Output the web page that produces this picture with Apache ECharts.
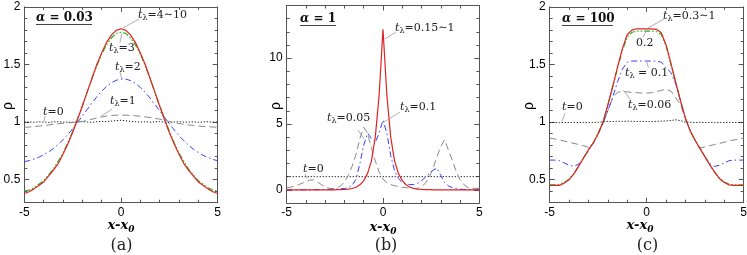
<!DOCTYPE html>
<html><head><meta charset="utf-8">
<script src="https://cdn.jsdelivr.net/npm/echarts@6/dist/echarts.min.js"></script>
<style>html,body{margin:0;padding:0;background:#fff}#c{width:747px;height:255px}</style>
</head><body><div id="c"></div>
<script>
// ---------- data ----------
const xGridAC = [-5,-4.75,-4.5,-4.25,-4,-3.75,-3.5,-3.25,-3,-2.75,-2.5,-2.25,-2,-1.75,-1.5,-1.25,-1,-0.75,-0.5,-0.25,0,0.25,0.5,0.75,1,1.25,1.5,1.75,2,2.25,2.5,2.75,3,3.25,3.5,3.75,4,4.25,4.5,4.75,5];
const xGridB = [-5,-4.8,-4.6,-4.4,-4.2,-4,-3.8,-3.6,-3.4,-3.2,-3,-2.8,-2.6,-2.4,-2.2,-2,-1.8,-1.6,-1.4,-1.2,-1,-0.8,-0.6,-0.4,-0.2,0,0.2,0.4,0.6,0.8,1,1.2,1.4,1.6,1.8,2,2.2,2.4,2.6,2.8,3,3.2,3.4,3.6,3.8,4,4.2,4.4,4.6,4.8,5];

// panel (a) alpha = 0.03
const aT0    = [1.0,1.003,0.998,1.002,1.0,0.997,1.001,1.004,0.999,1.0,0.998,1.002,1.004,1.0,0.998,1.003,1.006,1.004,1.009,1.012,1.016,1.011,1.006,1.003,1.0,1.003,0.999,1.002,1.005,1.0,0.998,1.001,1.003,0.999,1.0,1.002,0.998,1.001,1.003,1.0,1.0];
const aT1    = [0.955,0.957,0.96,0.965,0.97,0.975,0.98,0.985,0.99,0.993,0.997,1.0,1.005,1.015,1.025,1.035,1.045,1.052,1.057,1.06,1.06,1.06,1.058,1.055,1.05,1.045,1.04,1.033,1.025,1.015,1.005,0.995,0.987,0.98,0.975,0.97,0.966,0.962,0.96,0.957,0.955];
const aT2    = [0.656,0.666,0.679,0.695,0.716,0.74,0.77,0.806,0.846,0.892,0.942,0.996,1.052,1.110,1.166,1.219,1.268,1.309,1.341,1.363,1.374,1.373,1.36,1.336,1.301,1.258,1.209,1.155,1.098,1.041,0.985,0.932,0.882,0.838,0.798,0.764,0.735,0.711,0.692,0.676,0.664];
const aT3    = [0.40,0.41,0.43,0.46,0.49,0.54,0.59,0.66,0.73,0.82,0.92,1.03,1.14,1.26,1.38,1.49,1.59,1.67,1.73,1.77,1.78,1.77,1.73,1.67,1.59,1.49,1.38,1.26,1.14,1.03,0.92,0.82,0.73,0.66,0.59,0.54,0.49,0.46,0.43,0.41,0.40];
const aT4to10= [0.38,0.395,0.42,0.45,0.48,0.53,0.58,0.64,0.72,0.81,0.91,1.02,1.14,1.26,1.38,1.50,1.60,1.69,1.755,1.796,1.81,1.796,1.755,1.69,1.60,1.50,1.38,1.26,1.14,1.02,0.91,0.81,0.72,0.64,0.58,0.53,0.48,0.45,0.42,0.395,0.38];

// panel (b) alpha = 1
const bT0    = [1,1,1,1,1,1,1,1,1,1,1,1,1,1,1,1,1,1,1,1,1,1,1,1,1,1,1,1,1,1,1,1,1,1,1,1,1,1,1,1,1,1,1,1,1,1,1,1,1,1,1];
const bT005  = [0.15,0.2,0.28,0.38,0.5,0.62,0.74,0.76,0.6,0.4,0.22,0.12,0.1,0.15,0.3,0.6,1.1,1.8,2.7,3.9,4.75,4.3,3.15,2.2,1.35,0.82,0.55,0.4,0.31,0.25,0.2,0.16,0.13,0.11,0.12,0.25,0.5,0.95,1.65,2.5,3.3,3.8,3.0,2.25,1.4,0.78,0.4,0.18,0.12,0.11,0.1];
const bT01   = [0,0,0,0,0,0,0,0.01,0.01,0.02,0.02,0.03,0.04,0.06,0.08,0.1,0.15,0.35,0.8,2.0,3.4,4.3,3.9,3.6,4.3,5.3,4.3,2.6,1.45,0.85,0.56,0.45,0.4,0.4,0.5,0.7,0.95,1.2,1.5,1.65,1.1,0.55,0.3,0.17,0.1,0.05,0.03,0.02,0.01,0,0];
const bT015to1=[0,0,0,0,0,0,0,0,0,0,0,0,0,0.01,0.02,0.03,0.05,0.1,0.2,0.38,0.7,1.25,2.2,4.0,7.2,12.2,7.2,4.0,2.2,1.25,0.7,0.38,0.2,0.1,0.05,0.03,0.02,0.01,0,0,0,0,0,0,0,0,0,0,0,0,0];

// panel (c) alpha = 100
const cT0    = [0.996,0.997,0.995,0.997,0.996,0.998,0.996,0.997,0.995,0.997,0.998,1.003,1.006,1.005,1.007,1.006,1.008,1.006,1.005,1.006,1.005,1.004,1.006,1.008,1.01,1.014,1.02,1.012,1.0,0.997,0.996,0.998,0.996,0.997,0.995,0.997,0.996,0.998,0.996,0.997,0.996];
const cT006  = [0.862,0.853,0.845,0.835,0.825,0.815,0.805,0.795,0.78,0.82,0.90,0.99,1.10,1.21,1.26,1.265,1.262,1.258,1.255,1.252,1.252,1.255,1.265,1.275,1.285,1.27,1.21,1.15,1.03,0.92,0.84,0.775,0.785,0.795,0.805,0.815,0.825,0.835,0.845,0.853,0.862];
const cT01   = [0.67,0.67,0.665,0.645,0.625,0.615,0.635,0.69,0.75,0.82,0.90,0.99,1.10,1.22,1.35,1.46,1.52,1.53,1.53,1.53,1.53,1.53,1.53,1.52,1.47,1.43,1.33,1.18,1.03,0.92,0.84,0.77,0.70,0.64,0.615,0.625,0.645,0.665,0.67,0.67,0.67];
const cT02   = [0.455,0.455,0.46,0.475,0.505,0.555,0.62,0.69,0.76,0.82,0.90,1.0,1.15,1.31,1.47,1.62,1.74,1.78,1.79,1.79,1.79,1.79,1.785,1.76,1.66,1.50,1.34,1.18,1.03,0.92,0.84,0.77,0.70,0.63,0.565,0.515,0.48,0.46,0.455,0.455,0.455];
const cT03to1= [0.45,0.45,0.45,0.47,0.50,0.55,0.62,0.69,0.76,0.82,0.90,1.0,1.15,1.31,1.48,1.64,1.76,1.80,1.81,1.81,1.81,1.81,1.805,1.775,1.67,1.51,1.34,1.18,1.03,0.92,0.84,0.77,0.70,0.63,0.565,0.51,0.475,0.455,0.45,0.45,0.45];

const xRange = [-5, 5];
const yRanges = [[0.3, 2, 0.1], [-1, 14, 1], [0.3, 2, 0.1]];

// ---------- styles ----------
const FRAME = '#555';
const RED = '#e02222', GREEN = '#22bb22', BLUE = '#3a3aff', GRAY = '#888888', BLACK = '#111';
const DOT = [1.2, 1.8], DASH = [7, 4], DASHDOT = [6, 3, 1.5, 3], DASHDOTDOT = [6, 2, 1.5, 2, 1.5, 2];

const grids = [
  {left: 24.3, top: 6.9, width: 193.4, height: 195.8},
  {left: 286.7, top: 5.5, width: 192.6, height: 197.5},
  {left: 549.7, top: 6.9, width: 194, height: 195.8}
];

const xAxis = [], yAxis = [];
grids.forEach((g, i) => {
  const lbl = {margin: 4, fontSize: 12, color: '#000', fontFamily: 'Liberation Sans'};
  const common = {gridIndex: i, type: 'value', splitLine: {show: false}, minorSplitLine: {show: false}};
  ['bottom', 'top'].forEach(pos => {
    xAxis.push(Object.assign({}, common, {
      position: pos, min: xRange[0], max: xRange[1], interval: 5,
      axisLine: {show: true, onZero: false, lineStyle: {color: FRAME, width: 1}},
      axisTick: {show: true, inside: true, length: 5, lineStyle: {color: FRAME}},
      minorTick: {show: true, splitNumber: 5, length: 3, lineStyle: {color: FRAME}},
      axisLabel: pos === 'bottom' ? lbl : {show: false}
    }));
  });
  const [ymin, ymax, ystep] = yRanges[i];
  ['left', 'right'].forEach(pos => {
    yAxis.push(Object.assign({}, common, {
      position: pos, min: ymin, max: ymax, splitNumber: 3,
      axisLine: {show: true, onZero: false, lineStyle: {color: FRAME, width: 1}},
      axisTick: {show: true, inside: true, length: 5, lineStyle: {color: FRAME}},
      axisLabel: pos === 'left' ? Object.assign({showMinLabel: false, showMaxLabel: i !== 1}, lbl) : {show: false}
    }));
    yAxis.push(Object.assign({}, common, {
      position: pos, min: ymin, max: ymax, interval: ystep,
      axisLine: {show: false, onZero: false},
      axisTick: {show: true, inside: true, length: 3, lineStyle: {color: FRAME}},
      axisLabel: {show: false}
    }));
  });
});

function zip(xs, ys) { return xs.map((x, k) => [x, ys[k]]); }
function ln(p, xs, ys, color, type, width, z) {
  return {type: 'line', xAxisIndex: 2 * p, yAxisIndex: 4 * p, data: zip(xs, ys),
    symbol: 'none', showSymbol: false, smooth: false, silent: true, animation: false, z: z,
    lineStyle: {color: color, type: type, width: width}};
}
const series = [
  ln(0, xGridAC, aT0, BLACK, DOT, 1, 2),
  ln(0, xGridAC, aT1, GRAY, DASH, 1, 3),
  ln(0, xGridAC, aT2, BLUE, DASHDOT, 1, 4),
  ln(0, xGridAC, aT3, GREEN, DASHDOTDOT, 1.2, 5),
  ln(0, xGridAC, aT4to10, RED, 'solid', 1.2, 6),
  ln(1, xGridB, bT0, BLACK, DOT, 1, 2),
  ln(1, xGridB, bT005, GRAY, DASH, 1, 3),
  ln(1, xGridB, bT01, BLUE, DASHDOT, 1, 4),
  ln(1, xGridB, bT015to1, RED, 'solid', 1.2, 6),
  ln(2, xGridAC, cT0, BLACK, DOT, 1, 2),
  ln(2, xGridAC, cT006, GRAY, DASH, 1, 3),
  ln(2, xGridAC, cT01, BLUE, DASHDOT, 1, 4),
  ln(2, xGridAC, cT02, GREEN, DASHDOTDOT, 1.2, 5),
  ln(2, xGridAC, cT03to1, RED, 'solid', 1.2, 6)
];

// ---------- text annotations ----------
const SERIF = 'DejaVu Serif';
const TXT = '#222';
function tLam(x, y, rest) {
  return {type: 'text', x: x, y: y, silent: true, z: 100, style: {
    text: '{t|t}{s|λ}{n|' + rest + '}', align: 'left', verticalAlign: 'middle',
    rich: {
      t: {fontFamily: SERIF, fontStyle: 'italic', fontSize: 11, fill: TXT},
      s: {fontFamily: SERIF, fontSize: 8, fill: TXT, padding: [6, 0, 0, 0]},
      n: {fontFamily: SERIF, fontSize: 11, fill: TXT}
    }}};
}
function tZero(x, y) {
  return {type: 'text', x: x, y: y, silent: true, z: 100, style: {
    text: '{t|t}{n|=0}', align: 'left', verticalAlign: 'middle',
    rich: {
      t: {fontFamily: SERIF, fontStyle: 'italic', fontSize: 11, fill: TXT},
      n: {fontFamily: SERIF, fontSize: 11, fill: TXT}
    }}};
}
function plain(x, y, text, size, align, extra) {
  return {type: 'text', x: x, y: y, silent: true, z: 100, style: Object.assign({
    text: text, align: align || 'left', verticalAlign: 'middle',
    fontFamily: SERIF, fontSize: size, fill: TXT}, extra || {})};
}
function leader(x1, y1, x2, y2) {
  return {type: 'line', silent: true, z: 99, shape: {x1: x1, y1: y1, x2: x2, y2: y2},
    style: {stroke: '#9a9a9a', lineWidth: 0.8}};
}
function alpha(x, y, val, ux2) {
  return [
    {type: 'text', x: x, y: y, silent: true, z: 100, style: {
      text: '{a|α}{n| = ' + val + '}', align: 'left', verticalAlign: 'middle',
      rich: {
        a: {fontFamily: SERIF, fontStyle: 'italic', fontWeight: 'bold', fontSize: 12, fill: '#111'},
        n: {fontFamily: SERIF, fontWeight: 'bold', fontSize: 12, fill: '#111'}
      }}},
    {type: 'line', silent: true, z: 100, shape: {x1: x, y1: y + 6.5, x2: ux2, y2: y + 6.5},
      style: {stroke: '#444', lineWidth: 1}}
  ];
}
function xTitle(cx, y) {
  return {type: 'text', x: cx, y: y, silent: true, z: 100, style: {
    text: '{m|x-x}{s|0}', align: 'center', verticalAlign: 'middle',
    rich: {
      m: {fontFamily: SERIF, fontStyle: 'italic', fontWeight: 'bold', fontSize: 13, fill: '#000'},
      s: {fontFamily: SERIF, fontStyle: 'italic', fontWeight: 'bold', fontSize: 9, fill: '#000', padding: [7, 0, 0, 0]}
    }}};
}
function rho(cx, cy) {
  return {type: 'text', x: cx, y: cy, rotation: Math.PI / 2, silent: true, z: 100, style: {
    text: 'ρ', align: 'center', verticalAlign: 'middle', fontFamily: 'Liberation Sans', fontSize: 14, fill: '#000'}};
}

const graphic = [].concat(
  // panel (a)
  alpha(36, 18, '0.03', 92),
  [tLam(138, 15, '=4∼10'), leader(123, 28, 139, 19),
   tLam(109, 48, '=3'), leader(121.7, 33.5, 120, 42.5),
   tLam(115, 67, '=2'), leader(120, 72, 121.7, 78.5),
   tLam(110, 101, '=1'), leader(100.7, 116.5, 112, 109),
   tZero(43, 112), leader(45, 116, 44, 121.5),
   xTitle(121, 226), plain(121.5, 246, '(a)', 16, 'center'), rho(8, 106)],
  // panel (b)
  alpha(300, 19, '1', 336),
  [tLam(395, 28, '=0.15∼1'), leader(385, 39, 396, 32),
   tLam(400, 107, '=0.1'), leader(384, 122, 400, 112),
   tLam(327, 118, '=0.05'), leader(358, 130, 364, 139),
   tZero(303, 169), leader(305, 174, 307, 178.5),
   xTitle(383, 228), plain(386, 246, '(b)', 16, 'center'), rho(276.5, 106)],
  // panel (c)
  alpha(562, 19, '100', 613),
  [tLam(663, 16, '=0.3∼1'), leader(648, 28, 664, 19),
   plain(636, 43, '0.2', 11), leader(646.7, 30, 643.3, 37),
   tLam(625, 73, ' = 0.1'), leader(646.7, 61.7, 648.3, 67.5),
   tLam(628, 105, '=0.06'), leader(623.3, 90, 630, 99),
   tZero(562, 107), leader(565, 113, 562, 121.5),
   xTitle(640, 226), plain(647.5, 246, '(c)', 16, 'center'), rho(529, 106)]
);

const chart = echarts.init(document.getElementById('c'), null, {renderer: 'canvas'});
chart.setOption({
  animation: false,
  backgroundColor: '#fff',
  grid: grids.map(g => Object.assign({containLabel: false, outerBoundsMode: 'none'}, g)),
  xAxis: xAxis,
  yAxis: yAxis,
  series: series,
  graphic: graphic
});
</script>
</body></html>
